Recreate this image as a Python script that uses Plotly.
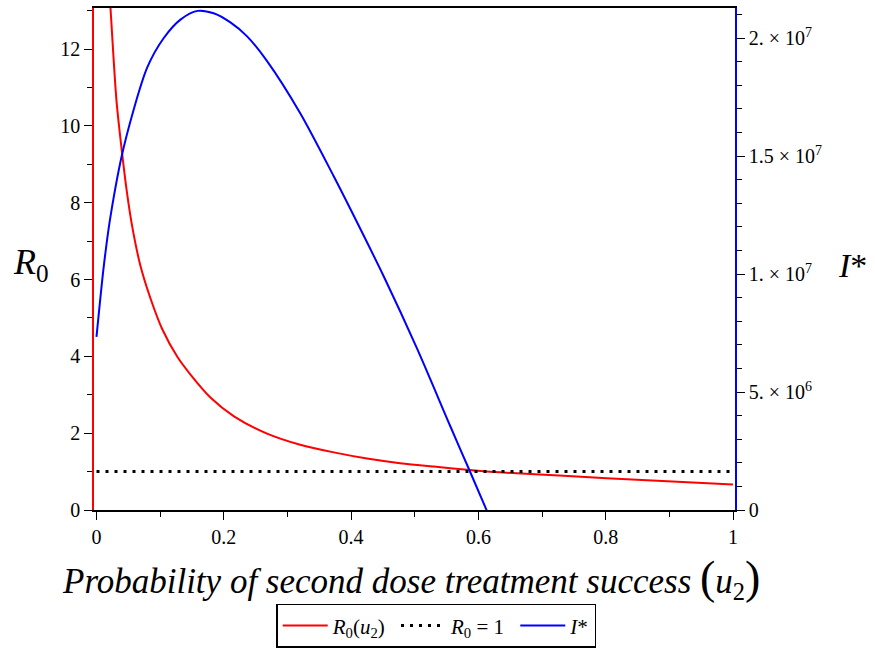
import plotly.graph_objects as go

# --- data ---
u_r0 = [0.015, 0.022, 0.0314, 0.0403, 0.048, 0.056, 0.069, 0.085, 0.103, 0.127, 0.148,
        0.179, 0.216, 0.268, 0.320, 0.373, 0.425, 0.477, 0.530, 0.582, 0.634, 0.734, 0.865, 1.0]
r0_vals = [14.8, 13.06, 10.66, 9.28, 8.25, 7.39, 6.36, 5.50, 4.72, 3.99, 3.52,
           2.93, 2.44, 1.99, 1.70, 1.50, 1.34, 1.22, 1.13, 1.05, 0.98, 0.89, 0.775, 0.665]

u_i = [0.0, 0.0115, 0.022, 0.0429, 0.0796, 0.1057, 0.1319, 0.1586, 0.1841, 0.2104, 0.2366, 0.268,
       0.3203, 0.3725, 0.3987, 0.451, 0.5035, 0.5557, 0.5871, 0.6159]
i_vals = [7.34e6, 1.035e7, 1.245e7, 1.539e7, 1.875e7, 2.001e7, 2.079e7, 2.116e7, 2.106e7, 2.067e7, 2.008e7, 1.903e7,
          1.681e7, 1.416e7, 1.277e7, 9.92e6, 6.85e6, 3.56e6, 1.61e6, -1.97e5]

u_thr = [0.0, 1.0]
r0_thr = [1.0, 1.0]

x_ticks = [0, 0.2, 0.4, 0.6, 0.8, 1]
x_ticktext = ["0", "0.2", "0.4", "0.6", "0.8", "1"]
y_ticks = [0, 2, 4, 6, 8, 10, 12]
y2_ticks = [0, 5e6, 1e7, 1.5e7, 2e7]
y2_ticktext = ["0", "5. × 10<sup>6</sup>", "1. × 10<sup>7</sup>", "1.5 × 10<sup>7</sup>", "2. × 10<sup>7</sup>"]

FONT = "Liberation Serif, Times New Roman, serif"
TICKFONT = dict(family=FONT, size=20, color="black")

fig = go.Figure()
fig.add_trace(go.Scatter(x=u_r0, y=r0_vals, mode="lines",
                         line=dict(color="#ff0000", width=2, shape="spline", smoothing=0.8),
                         name="<i>R</i><sub>0</sub>(<i>u</i><sub>2</sub>) ", yaxis="y"))
fig.add_trace(go.Scatter(x=u_thr, y=r0_thr, mode="lines", line=dict(color="black", width=3, dash="3px,6px"),
                         name="<i>R</i><sub>0</sub> = 1 ", yaxis="y"))
fig.add_trace(go.Scatter(x=u_i, y=i_vals, mode="lines",
                         line=dict(color="#0000ff", width=2, shape="spline", smoothing=0.8),
                         name="<i>I</i>*", yaxis="y2"))

W, H = 875, 654
L, R, T, B = 93.5, 875 - 735, 6.5, 654 - 513
plot_h = H - T - B
plot_w = W - L - R
xr0 = -2.5 / 637
xr1 = 1 + 2 / 637

fig.update_layout(
    width=W, height=H,
    margin=dict(l=L, r=R, t=T, b=B, pad=0),
    paper_bgcolor="white", plot_bgcolor="white",
    font=dict(family=FONT, size=20, color="black"),
    showlegend=True,
    legend=dict(orientation="h", x=(436 - L) / plot_w, xanchor="center", y=-(652 - 513) / plot_h,
                yanchor="bottom", bordercolor="black", borderwidth=1.5, font=dict(family=FONT, size=21),
                itemwidth=45, tracegroupgap=0, bgcolor="white"),
    xaxis=dict(range=[xr0, xr1], showgrid=False, zeroline=False, showline=True, linecolor="black",
               linewidth=1.5, mirror=True, ticks="outside", ticklen=8, tickcolor="black",
               tickvals=x_ticks, ticktext=x_ticktext, tickfont=TICKFONT,
               minor=dict(dtick=0.1, tick0=0, ticks="outside", ticklen=5, tickcolor="black", showgrid=False)),
    yaxis=dict(range=[0, (513 - 6.5) / 38.75], showgrid=False, zeroline=False, showline=True,
               linecolor="#ff0000", linewidth=1.5, ticks="outside", ticklen=8, tickcolor="black",
               tickvals=y_ticks, tickfont=TICKFONT,
               minor=dict(dtick=1, tick0=0, ticks="outside", ticklen=5, tickcolor="black", showgrid=False)),
    yaxis2=dict(range=[0, (513 - 6.5) * 2e7 / 476], overlaying="y", side="right", showgrid=False,
                zeroline=False, showline=True, linecolor="#0000ff", linewidth=1.5, ticks="outside",
                ticklen=8, tickcolor="black", tickvals=y2_ticks, ticktext=y2_ticktext, tickfont=TICKFONT,
                minor=dict(dtick=1e6, tick0=0, ticks="outside", ticklen=5, tickcolor="black", showgrid=False)),
)

xtitle = ("<i>Probability of second dose treatment success</i> "
          "<span style='font-size:46px'>(</span><i>u</i><sub>2</sub>"
          "<span style='font-size:46px'>)</span>")
fig.add_annotation(text=xtitle, xref="paper", yref="paper", x=(411 - L) / plot_w, y=-(553 - 513) / plot_h,
                   xanchor="center", yanchor="top", showarrow=False, font=dict(family=FONT, size=35))
fig.add_annotation(text="<i>R</i><sub>0</sub>", xref="paper", yref="paper", x=-(L - 10) / plot_w,
                   y=(513 - 265) / plot_h, xanchor="left", yanchor="middle", showarrow=False,
                   font=dict(family=FONT, size=36))
fig.add_annotation(text="<i>I</i>*", xref="paper", yref="paper", x=(836 - L) / plot_w,
                   y=(513 - 266) / plot_h, xanchor="left", yanchor="middle", showarrow=False,
                   font=dict(family=FONT, size=34))

fig.write_html("out.html")
